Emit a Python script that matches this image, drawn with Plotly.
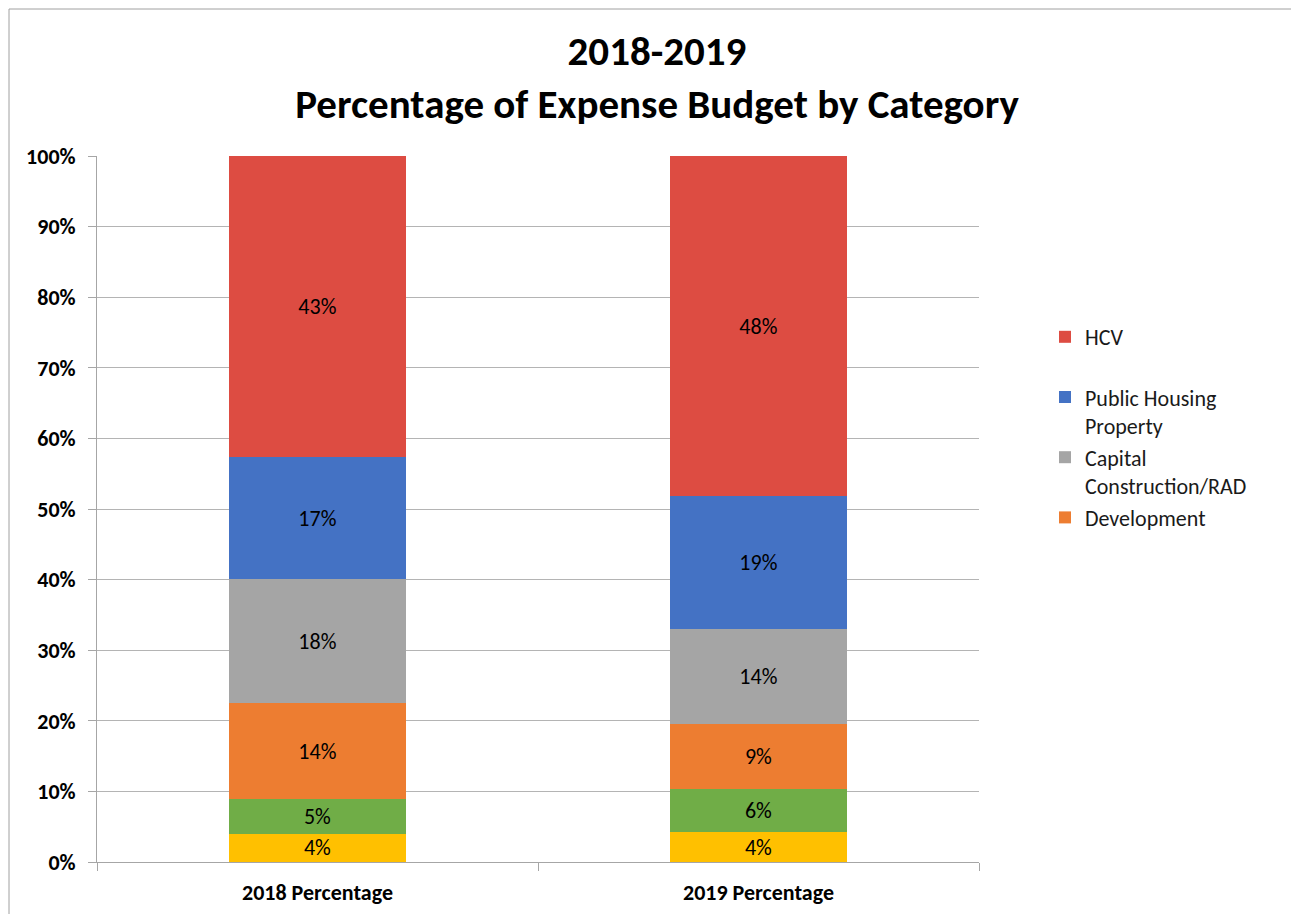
import plotly.graph_objects as go

categories = ["2018 Percentage", "2019 Percentage"]

# stacked bottom -> top
yellow_vals = [3.97, 4.20]
green_vals = [4.92, 6.09]
development = [13.60, 9.20]
capital_rad = [17.60, 13.55]
public_housing = [17.24, 18.74]
hcv = [42.68, 48.16]

series = [
    ("Series 6", yellow_vals, "#FFC000", False),
    ("Series 5", green_vals, "#70AD47", False),
    ("Development", development, "#ED7D31", True),
    ("Capital<br>Construction/RAD", capital_rad, "#A5A5A5", True),
    ("Public Housing<br>Property", public_housing, "#4472C4", True),
    ("HCV<br> ", hcv, "#DD4C42", True),
]

FONT = "Carlito, Calibri, Lato, sans-serif"
FS = 22

fig = go.Figure()
for name, vals, color, show in series:
    fig.add_trace(go.Bar(
        x=categories, y=vals, name=name, marker_color=color,
        marker_line_width=0, width=0.4, showlegend=show,
        texttemplate="%{y:.0f}%", textposition="inside",
        insidetextanchor="middle", constraintext="none",
        textfont=dict(family=FONT, size=FS, color="black"),
    ))

W, H = 1291, 914
L, R, T, B = 97, 979, 156, 862
pw, ph = R - L, B - T

fig.update_layout(
    width=W, height=H, barmode="stack",
    margin=dict(l=L, r=W - R, t=T, b=H - B, autoexpand=False),
    paper_bgcolor="white", plot_bgcolor="white",
    font=dict(family=FONT, color="black"),
    uniformtext=dict(minsize=FS, mode="show"),
    title=dict(
        text="<b>2018-2019<br>Percentage of Expense Budget by Category</b>",
        x=657 / W, xanchor="center", y=1 - 65 / H, yanchor="middle",
        font=dict(family=FONT, size=41, color="black"),
    ),
    legend=dict(
        x=(1045 - L) / pw, xanchor="left",
        y=(B - 316) / ph, yanchor="top",
        traceorder="reversed", valign="top",
        font=dict(family=FONT, size=FS, color="#1a1a1a"),
        itemwidth=30, tracegroupgap=0,
        bgcolor="rgba(0,0,0,0)",
    ),
    xaxis=dict(
        showline=True, linecolor="#A6A6A6", linewidth=1,
        ticks="outside", tickson="boundaries", ticklen=8, tickcolor="#A6A6A6",
        tickfont=dict(family=FONT, size=FS, color="black", weight="bold"),
        ticklabelstandoff=11, automargin=False,
        showgrid=False,
    ),
    yaxis=dict(
        range=[0, 100], dtick=10, ticksuffix="%",
        showline=True, linecolor="#A6A6A6", linewidth=1,
        ticks="outside", ticklen=8, tickcolor="#A6A6A6",
        ticklabelstandoff=8, automargin=False,
        showgrid=True, gridcolor="#B4B4B4", gridwidth=1,
        tickfont=dict(family=FONT, size=FS, color="black", weight="bold"),
        zeroline=False,
    ),
    shapes=[dict(
        type="rect", xref="paper", yref="paper",
        x0=(9 - L) / pw, x1=1.5, y0=-0.5, y1=(B - 9) / ph,
        line=dict(color="#A0A0A0", width=1), layer="below",
    )],
)

fig.write_html("out.html")
